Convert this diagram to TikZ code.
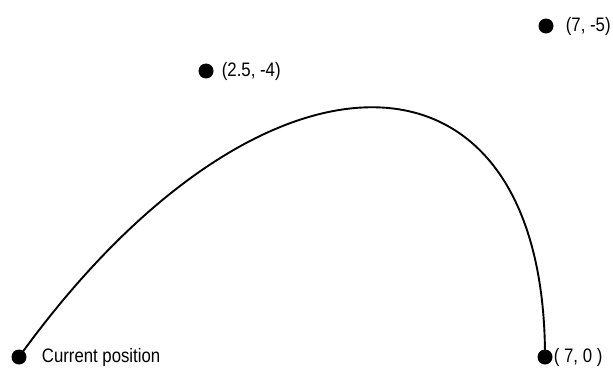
\documentclass[tikz,border=0pt]{standalone}
\usepackage{fontspec}
\setmainfont{Liberation Sans}[FakeStretch=0.86]
\usepackage{tikz}
\usetikzlibrary{positioning}

\begin{document}
\begin{tikzpicture}[x=1pt, y=-1pt, font=\fontsize{19.5}{22}\selectfont,
  dot/.style={circle, fill=black, inner sep=0pt, minimum size=15pt},
  lbl/.style={inner sep=0pt, anchor=west}]
\useasboundingbox (0,0) rectangle (613,369);

% ---- end points of the curve ----
\node[dot] (start) at (19,357) {};
\node[dot] (finish) at (545,357) {};
\node[lbl, right=15pt of start] {Current position};
\node[lbl, right=1pt of finish] {( 7, 0 )};

% ---- control points ----
\node[dot] (ctrlA) at (206,71) {};
\node[dot] (ctrlB) at (546,26) {};
\node[lbl, right=8pt of ctrlA] {(2.5, -4)};
\node[lbl, right=12pt of ctrlB] {(7, -5)};

% Bezier curve
\coordinate (bendA) at (259,24);
\coordinate (bendB) at (545,24);
\draw[line width=1.9pt] (start.center) .. controls (bendA) and (bendB) .. (finish.center);

\end{tikzpicture}
\end{document}
